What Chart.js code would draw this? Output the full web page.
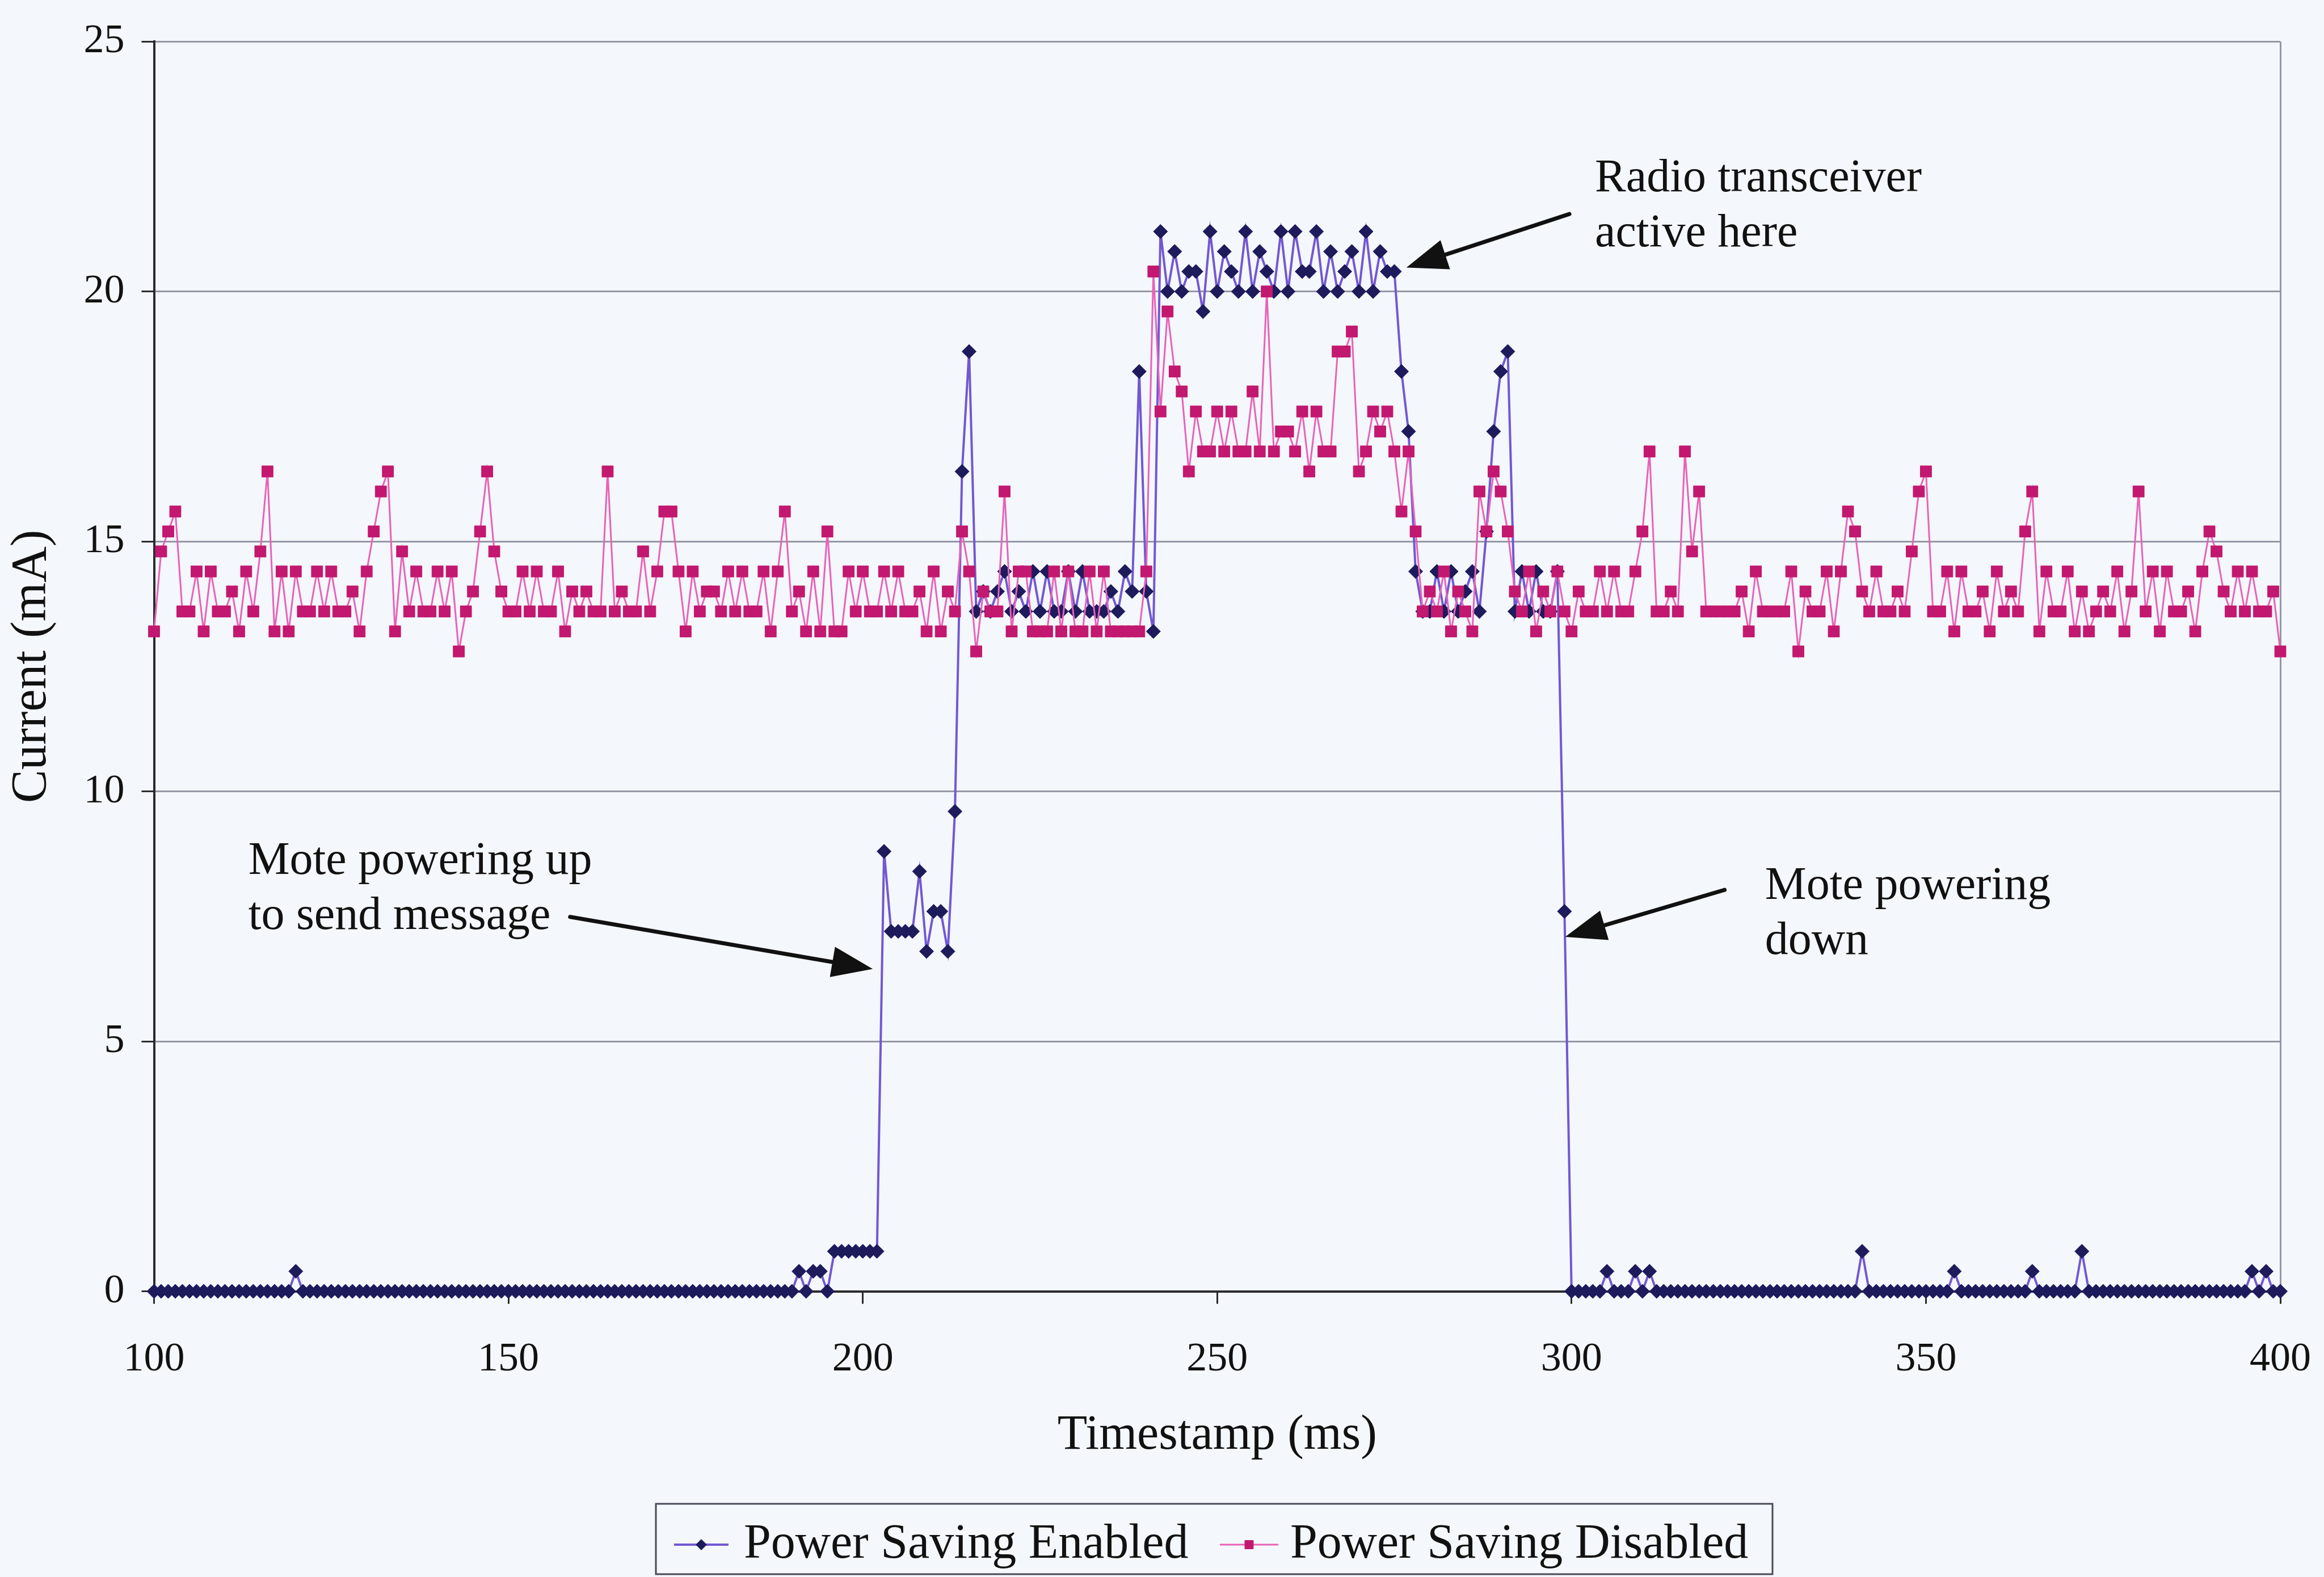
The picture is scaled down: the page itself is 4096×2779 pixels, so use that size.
<!DOCTYPE html>
<html>
<head>
<meta charset="utf-8">
<title>Mote current draw</title>
<script src="https://cdn.jsdelivr.net/npm/chart.js@4.4.0/dist/chart.umd.min.js"></script>
<style>
  html, body { margin: 0; padding: 0; background: #f4f7fb; }
  canvas { display: block; }
</style>
</head>
<body>
<canvas id="currentChart" width="4096" height="2779"></canvas>
<script>
// one reading per ms, 100 .. 400 ms
const startMs = 100;
const xTicks = [100, 150, 200, 250, 300, 350, 400];
const yTicks = [0, 5, 10, 15, 20, 25];
const seriesNames = ["Power Saving Enabled", "Power Saving Disabled"];

// Power Saving Enabled, current in mA
const enabledMa = [
  0, 0, 0, 0, 0, 0, 0, 0, 0, 0,            // 100
  0, 0, 0, 0, 0, 0, 0, 0, 0, 0,            // 110
  0.4, 0, 0, 0, 0, 0, 0, 0, 0, 0,          // 120
  0, 0, 0, 0, 0, 0, 0, 0, 0, 0,            // 130
  0, 0, 0, 0, 0, 0, 0, 0, 0, 0,            // 140
  0, 0, 0, 0, 0, 0, 0, 0, 0, 0,            // 150
  0, 0, 0, 0, 0, 0, 0, 0, 0, 0,            // 160
  0, 0, 0, 0, 0, 0, 0, 0, 0, 0,            // 170
  0, 0, 0, 0, 0, 0, 0, 0, 0, 0,            // 180
  0, 0.4, 0, 0.4, 0.4, 0, 0.8, 0.8, 0.8, 0.8,               // 190
  0.8, 0.8, 0.8, 8.8, 7.2, 7.2, 7.2, 7.2, 8.4, 6.8,         // 200
  7.6, 7.6, 6.8, 9.6, 16.4, 18.8, 13.6, 14.0, 13.6, 14.0,   // 210
  14.4, 13.6, 14.0, 13.6, 14.4, 13.6, 14.4, 13.6, 13.6, 14.4, // 220
  13.6, 14.4, 13.6, 13.6, 13.6, 14.0, 13.6, 14.4, 14.0, 18.4, // 230
  14.0, 13.2, 21.2, 20.0, 20.8, 20.0, 20.4, 20.4, 19.6, 21.2, // 240
  20.0, 20.8, 20.4, 20.0, 21.2, 20.0, 20.8, 20.4, 20.0, 21.2, // 250
  20.0, 21.2, 20.4, 20.4, 21.2, 20.0, 20.8, 20.0, 20.4, 20.8, // 260
  20.0, 21.2, 20.0, 20.8, 20.4, 20.4, 18.4, 17.2, 14.4, 13.6, // 270
  13.6, 14.4, 13.6, 14.4, 13.6, 14.0, 14.4, 13.6, 15.2, 17.2, // 280
  18.4, 18.8, 13.6, 14.4, 13.6, 14.4, 13.6, 13.6, 14.4, 7.6,  // 290
  0, 0, 0, 0, 0, 0.4, 0, 0, 0, 0.4,        // 300
  0, 0.4, 0, 0, 0, 0, 0, 0, 0, 0,          // 310
  0, 0, 0, 0, 0, 0, 0, 0, 0, 0,            // 320
  0, 0, 0, 0, 0, 0, 0, 0, 0, 0,            // 330
  0, 0.8, 0, 0, 0, 0, 0, 0, 0, 0,          // 340
  0, 0, 0, 0, 0.4, 0, 0, 0, 0, 0,          // 350
  0, 0, 0, 0, 0, 0.4, 0, 0, 0, 0,          // 360
  0, 0, 0.8, 0, 0, 0, 0, 0, 0, 0,          // 370
  0, 0, 0, 0, 0, 0, 0, 0, 0, 0,            // 380
  0, 0, 0, 0, 0, 0, 0.4, 0, 0.4, 0,        // 390
  0                                         // 400
];

// Power Saving Disabled, current in mA
const disabledMa = [
  13.2, 14.8, 15.2, 15.6, 13.6, 13.6, 14.4, 13.2, 14.4, 13.6, // 100
  13.6, 14.0, 13.2, 14.4, 13.6, 14.8, 16.4, 13.2, 14.4, 13.2, // 110
  14.4, 13.6, 13.6, 14.4, 13.6, 14.4, 13.6, 13.6, 14.0, 13.2, // 120
  14.4, 15.2, 16.0, 16.4, 13.2, 14.8, 13.6, 14.4, 13.6, 13.6, // 130
  14.4, 13.6, 14.4, 12.8, 13.6, 14.0, 15.2, 16.4, 14.8, 14.0, // 140
  13.6, 13.6, 14.4, 13.6, 14.4, 13.6, 13.6, 14.4, 13.2, 14.0, // 150
  13.6, 14.0, 13.6, 13.6, 16.4, 13.6, 14.0, 13.6, 13.6, 14.8, // 160
  13.6, 14.4, 15.6, 15.6, 14.4, 13.2, 14.4, 13.6, 14.0, 14.0, // 170
  13.6, 14.4, 13.6, 14.4, 13.6, 13.6, 14.4, 13.2, 14.4, 15.6, // 180
  13.6, 14.0, 13.2, 14.4, 13.2, 15.2, 13.2, 13.2, 14.4, 13.6, // 190
  14.4, 13.6, 13.6, 14.4, 13.6, 14.4, 13.6, 13.6, 14.0, 13.2, // 200
  14.4, 13.2, 14.0, 13.6, 15.2, 14.4, 12.8, 14.0, 13.6, 13.6, // 210
  16.0, 13.2, 14.4, 14.4, 13.2, 13.2, 13.2, 14.4, 13.2, 14.4, // 220
  13.2, 13.2, 14.4, 13.2, 14.4, 13.2, 13.2, 13.2, 13.2, 13.2, // 230
  14.4, 20.4, 17.6, 19.6, 18.4, 18.0, 16.4, 17.6, 16.8, 16.8, // 240
  17.6, 16.8, 17.6, 16.8, 16.8, 18.0, 16.8, 20.0, 16.8, 17.2, // 250
  17.2, 16.8, 17.6, 16.4, 17.6, 16.8, 16.8, 18.8, 18.8, 19.2, // 260
  16.4, 16.8, 17.6, 17.2, 17.6, 16.8, 15.6, 16.8, 15.2, 13.6, // 270
  14.0, 13.6, 14.4, 13.2, 14.0, 13.6, 13.2, 16.0, 15.2, 16.4, // 280
  16.0, 15.2, 14.0, 13.6, 14.4, 13.2, 14.0, 13.6, 14.4, 13.6, // 290
  13.2, 14.0, 13.6, 13.6, 14.4, 13.6, 14.4, 13.6, 13.6, 14.4, // 300
  15.2, 16.8, 13.6, 13.6, 14.0, 13.6, 16.8, 14.8, 16.0, 13.6, // 310
  13.6, 13.6, 13.6, 13.6, 14.0, 13.2, 14.4, 13.6, 13.6, 13.6, // 320
  13.6, 14.4, 12.8, 14.0, 13.6, 13.6, 14.4, 13.2, 14.4, 15.6, // 330
  15.2, 14.0, 13.6, 14.4, 13.6, 13.6, 14.0, 13.6, 14.8, 16.0, // 340
  16.4, 13.6, 13.6, 14.4, 13.2, 14.4, 13.6, 13.6, 14.0, 13.2, // 350
  14.4, 13.6, 14.0, 13.6, 15.2, 16.0, 13.2, 14.4, 13.6, 13.6, // 360
  14.4, 13.2, 14.0, 13.2, 13.6, 14.0, 13.6, 14.4, 13.2, 14.0, // 370
  16.0, 13.6, 14.4, 13.2, 14.4, 13.6, 13.6, 14.0, 13.2, 14.4, // 380
  15.2, 14.8, 14.0, 13.6, 14.4, 13.6, 14.4, 13.6, 13.6, 14.0, // 390
  12.8                                                        // 400
];

const timestamps = enabledMa.map((_, i) => startMs + i);

// callouts: text lines, where the text starts and the arrow ends, in [ms, mA]
const noteLines = [
  ["Radio transceiver", "active here"],
  ["Mote powering up", "to send message"],
  ["Mote powering", "down"],
];
const noteAt = [[303.3, 22.25], [113.3, 8.6], [327.3, 8.1]];
const arrowFrom = [[299.7, 21.55], [158.7, 7.49], [321.6, 8.03]];
const arrowTo = [[276.7, 20.48], [201.4, 6.45], [299.1, 7.09]];

const serif = "'Liberation Serif', 'Times New Roman', serif";
const gridGray = "#9597a6";
const axisDark = "#2a2a30";

function drawArrow(ctx, x1, y1, x2, y2) {
  const ang = Math.atan2(y2 - y1, x2 - x1);
  const head = 72;
  const half = 27;
  const bx = x2 - head * Math.cos(ang);
  const by = y2 - head * Math.sin(ang);
  ctx.strokeStyle = "#111";
  ctx.fillStyle = "#111";
  ctx.lineWidth = 7;
  ctx.lineCap = "round";
  ctx.beginPath();
  ctx.moveTo(x1, y1);
  ctx.lineTo(bx, by);
  ctx.stroke();
  ctx.beginPath();
  ctx.moveTo(x2, y2);
  ctx.lineTo(bx + half * Math.sin(ang), by - half * Math.cos(ang));
  ctx.lineTo(bx - half * Math.sin(ang), by + half * Math.cos(ang));
  ctx.closePath();
  ctx.fill();
}

const pageBg = {
  id: "pageBg",
  beforeDraw(chart) {
    const { ctx, width, height } = chart;
    ctx.save();
    ctx.fillStyle = "#f4f7fb";
    ctx.fillRect(0, 0, width, height);
    ctx.restore();
  },
};

const callouts = {
  id: "callouts",
  afterDatasetsDraw(chart) {
    const { ctx, scales: { x, y } } = chart;
    ctx.save();
    noteLines.forEach((lines, i) => {
      drawArrow(
        ctx,
        x.getPixelForValue(arrowFrom[i][0]), y.getPixelForValue(arrowFrom[i][1]),
        x.getPixelForValue(arrowTo[i][0]), y.getPixelForValue(arrowTo[i][1])
      );
      ctx.font = "82px " + serif;
      ctx.fillStyle = "#111";
      ctx.textBaseline = "middle";
      ctx.textAlign = "left";
      const tx = x.getPixelForValue(noteAt[i][0]);
      const ty = y.getPixelForValue(noteAt[i][1]);
      lines.forEach((line, j) => ctx.fillText(line, tx, ty + j * 97));
    });
    ctx.restore();
  },
};

const legendBox = {
  id: "legendBox",
  afterDraw(chart) {
    const { ctx } = chart;
    const ds = chart.data.datasets;
    const cy = 2722;
    const items = [
      { x0: 1188, x1: 1284, tx: 1311 },
      { x0: 2150, x1: 2253, tx: 2274 },
    ];
    ctx.save();
    ctx.strokeStyle = "#4a4a58";
    ctx.lineWidth = 3;
    ctx.strokeRect(1156, 2650, 1968, 124);
    items.forEach((it, i) => {
      const d = ds[i];
      ctx.strokeStyle = d.borderColor;
      ctx.lineWidth = d.borderWidth;
      ctx.beginPath();
      ctx.moveTo(it.x0, cy);
      ctx.lineTo(it.x1, cy);
      ctx.stroke();
      ctx.fillStyle = d.pointBackgroundColor;
      ctx.strokeStyle = d.pointBorderColor;
      ctx.lineWidth = 1;
      Chart.helpers.drawPoint(ctx, { pointStyle: d.pointStyle, radius: d.pointRadius * 0.75, borderWidth: 1, rotation: 0 }, (it.x0 + it.x1) / 2, cy);
      ctx.fillStyle = "#111";
      ctx.font = "86px " + serif;
      ctx.textBaseline = "middle";
      ctx.textAlign = "left";
      ctx.fillText(seriesNames[i], it.tx, cy);
    });
    ctx.restore();
  },
};

const ctx = document.getElementById("currentChart").getContext("2d");

new Chart(ctx, {
  type: "line",
  data: {
    labels: timestamps,
    datasets: [
      {
        label: seriesNames[0],
        data: enabledMa,
        borderColor: "#7258d2",
        borderWidth: 4,
        pointStyle: "rectRot",
        pointRadius: 12.5,
        pointBackgroundColor: "#1d1b5c",
        pointBorderColor: "#1d1b5c",
        pointBorderWidth: 1,
        tension: 0,
        clip: false,
        order: 1,
      },
      {
        label: seriesNames[1],
        data: disabledMa,
        borderColor: "#e862b8",
        borderWidth: 3,
        pointStyle: "rect",
        pointRadius: 14,
        pointBackgroundColor: "#c2186f",
        pointBorderColor: "#c2186f",
        pointBorderWidth: 1,
        tension: 0,
        clip: false,
        order: 0,
      },
    ],
  },
  options: {
    responsive: false,
    animation: false,
    devicePixelRatio: 1,
    layout: { padding: { left: 0, top: 65, right: 77, bottom: 0 } },
    plugins: {
      legend: { display: false },
      tooltip: { enabled: false },
    },
    scales: {
      x: {
        type: "linear",
        min: 100,
        max: 400,
        afterBuildTicks: (s) => { s.ticks = xTicks.map((v) => ({ value: v })); },
        afterFit: (s) => {
          s.height = 2779 - 2275.6;
          s.paddingLeft = 0;
          s.paddingRight = 0;
        },
        ticks: {
          color: "#111",
          font: { family: serif, size: 72 },
          padding: 55,
          maxRotation: 0,
        },
        grid: {
          color: (c) => (c.tick && c.tick.value === 400 ? gridGray : "rgba(0,0,0,0)"),
          lineWidth: 3,
          tickColor: axisDark,
          tickLength: 22,
          tickWidth: 3,
        },
        border: { color: axisDark, width: 4 },
        title: {
          display: true,
          text: "Timestamp (ms)",
          color: "#111",
          font: { family: serif, size: 86 },
          padding: { top: 0, bottom: 197 },
        },
      },
      y: {
        min: 0,
        max: 25,
        afterBuildTicks: (s) => { s.ticks = yTicks.map((v) => ({ value: v })); },
        afterFit: (s) => { s.width = 271.5; },
        ticks: {
          color: "#111",
          font: { family: serif, size: 72 },
          padding: 30,
        },
        grid: {
          color: gridGray,
          lineWidth: 3,
          tickColor: axisDark,
          tickLength: 22,
          tickWidth: 3,
        },
        border: { color: axisDark, width: 4 },
        title: {
          display: true,
          text: "Current (mA)",
          color: "#111",
          font: { family: serif, size: 88 },
          padding: { top: 4, bottom: 0 },
        },
      },
    },
  },
  plugins: [pageBg, callouts, legendBox],
});
</script>
</body>
</html>
